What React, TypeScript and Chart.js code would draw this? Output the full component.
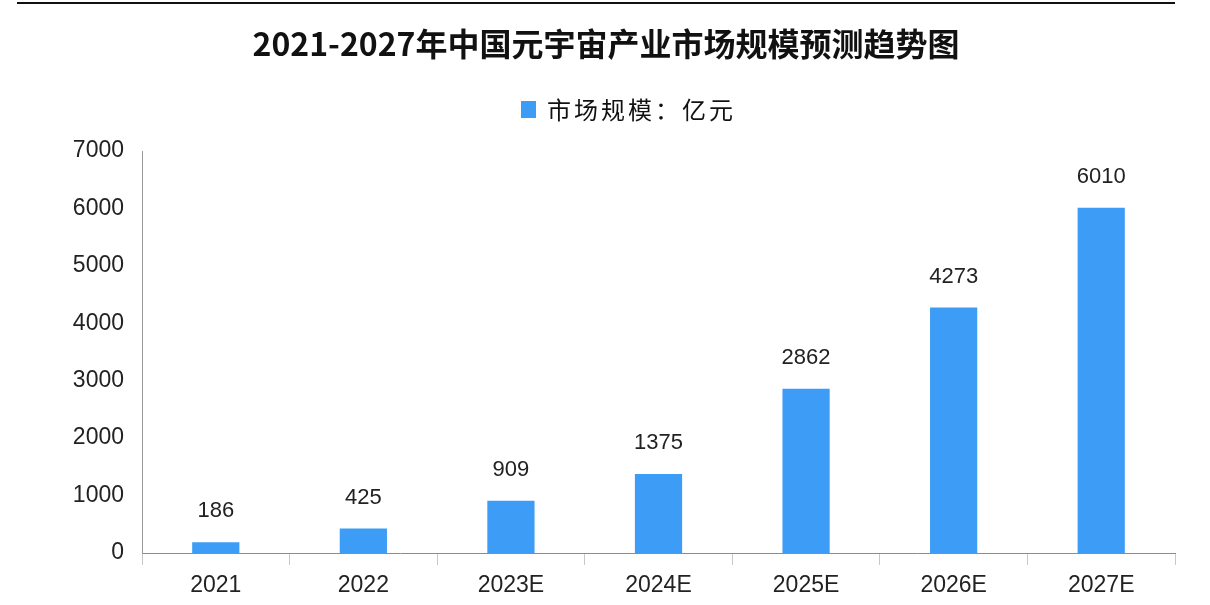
import React, { useEffect, useRef } from "react";
import { Chart, registerables } from "chart.js";

Chart.register(...registerables);

const TITLE = "2021-2027年中国元宇宙产业市场规模预测趋势图";
const SERIES_LABEL = "市场规模：亿元";
const categories = ["2021", "2022", "2023E", "2024E", "2025E", "2026E", "2027E"];
const marketSize = [186, 425, 909, 1375, 2862, 4273, 6010];
const yTicks = [0, 1000, 2000, 3000, 4000, 5000, 6000, 7000];

const BAR_COLOR = "#3D9CF6";
const NUM_FONT = "'Liberation Sans', Arial, sans-serif";
const CJK_FONT = "'Noto Sans CJK SC', 'Noto Sans', sans-serif";

const decorPlugin = {
  id: "decor",
  afterDraw(chart: any) {
    const ctx = chart.ctx as CanvasRenderingContext2D;
    ctx.save();
    // top rule
    ctx.strokeStyle = "#111";
    ctx.lineWidth = 2;
    ctx.beginPath();
    ctx.moveTo(17, 3);
    ctx.lineTo(1175, 3);
    ctx.stroke();
    // title
    ctx.fillStyle = "#111";
    ctx.font = `bold 32px ${CJK_FONT}`;
    ctx.textAlign = "center";
    ctx.textBaseline = "middle";
    ctx.fillText(TITLE, 606, 44);
    // legend
    ctx.fillStyle = BAR_COLOR;
    ctx.fillRect(521, 101, 15, 17);
    ctx.fillStyle = "#111";
    ctx.font = `24px ${CJK_FONT}`;
    ctx.textAlign = "left";
    (ctx as any).letterSpacing = "3px";
    ctx.fillText(SERIES_LABEL, 547, 110);
    (ctx as any).letterSpacing = "0px";
    // data labels
    const meta = chart.getDatasetMeta(0);
    ctx.font = `22px ${NUM_FONT}`;
    ctx.textAlign = "center";
    ctx.fillStyle = "#222";
    meta.data.forEach((bar: any, i: number) => {
      const v = chart.data.datasets[0].data[i];
      ctx.fillText(String(v), bar.x, bar.y - 31);
    });
    ctx.restore();
  },
};

export default function App() {
  const ref = useRef<HTMLCanvasElement | null>(null);
  useEffect(() => {
    if (!ref.current) return;
    const chart = new Chart(ref.current, {
      type: "bar",
      data: {
        labels: categories,
        datasets: [
          {
            label: SERIES_LABEL,
            data: marketSize,
            backgroundColor: BAR_COLOR,
            barPercentage: 0.32,
            categoryPercentage: 1,
          },
        ],
      },
      options: {
        animation: false,
        responsive: true,
        maintainAspectRatio: false,
        layout: { padding: { top: 151, right: 35, left: 0, bottom: 0 } },
        plugins: {
          legend: { display: false },
          title: { display: false },
          tooltip: { enabled: false },
        },
        scales: {
          x: {
            grid: {
              display: true,
              drawOnChartArea: false,
              drawTicks: true,
              tickLength: 12,
              color: "#c8c8c8",
            },
            border: { display: true, color: "#8c8c8c", width: 1 },
            ticks: {
              font: { family: NUM_FONT, size: 23 },
              color: "#222",
              padding: 7,
            },
            afterFit(scale: any) {
              scale.height = 52;
            },
          },
          y: {
            min: 0,
            max: 7000,
            afterBuildTicks(scale: any) {
              scale.ticks = yTicks.map((v) => ({ value: v }));
            },
            grid: { display: false, drawTicks: false },
            border: { display: true, color: "#9a9a9a", width: 1 },
            ticks: {
              font: { family: NUM_FONT, size: 23 },
              color: "#222",
              padding: 18,
              callback: (v: any) => String(v),
            },
            afterFit(scale: any) {
              scale.width = 142;
            },
          },
        },
      },
      plugins: [decorPlugin],
    });
    return () => chart.destroy();
  }, []);
  return (
    <div style={{ position: "fixed", left: 0, top: 0, width: 1210, height: 605, background: "#fff" }}>
      <canvas ref={ref} />
    </div>
  );
}
